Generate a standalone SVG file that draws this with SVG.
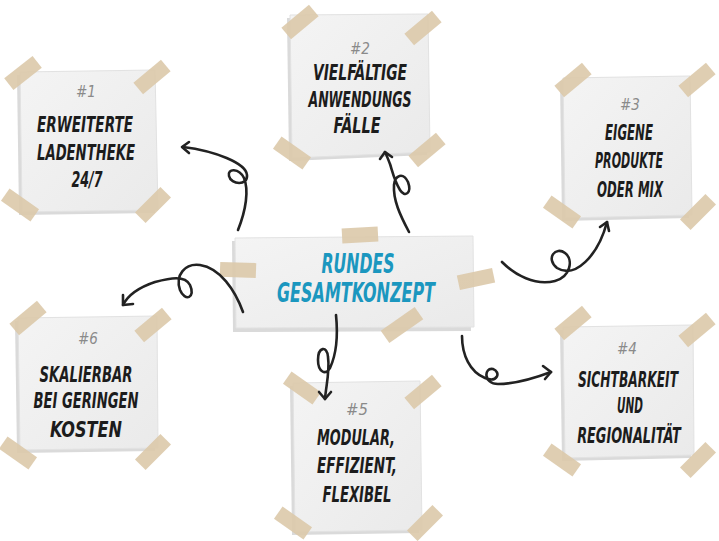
<svg xmlns="http://www.w3.org/2000/svg" width="719" height="541" viewBox="0 0 719 541">
<style>
.shadow{fill:#dadada}
.paper{fill:url(#pg);stroke:#e2e2e2;stroke-width:1}
.tape{fill:#dcc9aa;opacity:0.9}
.t{font-family:'DejaVu Sans Condensed','Liberation Sans Narrow','DejaVu Sans',sans-serif;font-weight:bold;font-style:italic;font-size:22px;fill:#1c1c1c;text-anchor:middle}
.c{font-size:26px;fill:#1b97bf}
.n{font-family:'DejaVu Sans','Liberation Sans',sans-serif;font-style:italic;font-size:15px;fill:#8a8a8a;text-anchor:middle}
.a{fill:none;stroke:#222;stroke-width:2.6;stroke-linecap:round;stroke-linejoin:round}
</style>
<defs>
<linearGradient id="pg" x1="0" y1="0" x2="1" y2="1">
<stop offset="0" stop-color="#f4f4f4"/>
<stop offset="0.5" stop-color="#efefef"/>
<stop offset="1" stop-color="#eaeaea"/>
</linearGradient>
<rect id="tp" class="tape" x="-18" y="-7.5" width="36" height="15"/>
</defs>
<rect width="719" height="541" fill="#ffffff"/>

<g id="center">
<polygon class="shadow" points="232,241 470,239 471,331 233,332"/>
<polygon class="paper" points="235,238 473,236 474,327 236,328"/>
<use href="#tp" transform="translate(360,235) rotate(-3)"/>
<use href="#tp" transform="translate(238,270) rotate(2)"/>
<use href="#tp" transform="translate(476,279) rotate(-12)"/>
<use href="#tp" transform="translate(402,325) rotate(-35) scale(1.15,1)"/>
<text class="t c" x="358" y="273" textLength="73" lengthAdjust="spacingAndGlyphs">RUNDES</text>
<text class="t c" x="356" y="302" textLength="158" lengthAdjust="spacingAndGlyphs">GESAMTKONZEPT</text>
</g>

<g id="note1">
<polygon class="shadow" points="17,75 152,73 155,213 19,215"/>
<polygon class="paper" points="20,72 155,70 158,210 22,212"/>
<use href="#tp" transform="translate(23,73) rotate(-38)"/>
<use href="#tp" transform="translate(152,77) rotate(-40)"/>
<use href="#tp" transform="translate(20,205) rotate(35)"/>
<use href="#tp" transform="translate(153,205) rotate(-45)"/>
<text class="n" x="86" y="97" textLength="20" lengthAdjust="spacingAndGlyphs">#1</text>
<text class="t" x="85" y="132" textLength="96" lengthAdjust="spacingAndGlyphs">ERWEITERTE</text>
<text class="t" x="86" y="160" textLength="98" lengthAdjust="spacingAndGlyphs">LADENTHEKE</text>
<text class="t" x="87" y="187" textLength="31" lengthAdjust="spacingAndGlyphs">24/7</text>
</g>

<g id="note2">
<polygon class="shadow" points="287,18 425,17 427,155 289,161"/>
<polygon class="paper" points="290,15 428,14 430,152 292,158"/>
<use href="#tp" transform="translate(300,22) rotate(-40)"/>
<use href="#tp" transform="translate(423,28) rotate(-40)"/>
<use href="#tp" transform="translate(292,153) rotate(35)"/>
<use href="#tp" transform="translate(427,150) rotate(-40)"/>
<text class="n" x="360" y="54" textLength="20" lengthAdjust="spacingAndGlyphs">#2</text>
<text class="t" x="360" y="80" textLength="94" lengthAdjust="spacingAndGlyphs">VIELFÄLTIGE</text>
<text class="t" x="360" y="107" textLength="103" lengthAdjust="spacingAndGlyphs">ANWENDUNGS</text>
<text class="t" x="357" y="133" textLength="47" lengthAdjust="spacingAndGlyphs">FÄLLE</text>
</g>

<g id="note3">
<polygon class="shadow" points="560,81 687,79 689,218 562,221"/>
<polygon class="paper" points="563,78 690,76 692,215 565,218"/>
<use href="#tp" transform="translate(573,80) rotate(-40)"/>
<use href="#tp" transform="translate(697,80) rotate(-40)"/>
<use href="#tp" transform="translate(562,212) rotate(35)"/>
<use href="#tp" transform="translate(698,212) rotate(-45)"/>
<text class="n" x="630" y="110" textLength="20" lengthAdjust="spacingAndGlyphs">#3</text>
<text class="t" x="629" y="140" textLength="48" lengthAdjust="spacingAndGlyphs">EIGENE</text>
<text class="t" x="629" y="168" textLength="68" lengthAdjust="spacingAndGlyphs">PRODUKTE</text>
<text class="t" x="630" y="197" textLength="66" lengthAdjust="spacingAndGlyphs">ODER MIX</text>
</g>

<g id="note4">
<polygon class="shadow" points="560,330 690,328 691,458 562,461"/>
<polygon class="paper" points="563,327 693,325 694,455 565,458"/>
<use href="#tp" transform="translate(573,323) rotate(-40)"/>
<use href="#tp" transform="translate(697,330) rotate(-40)"/>
<use href="#tp" transform="translate(562,460) rotate(35)"/>
<use href="#tp" transform="translate(698,460) rotate(-45)"/>
<text class="n" x="627" y="354" textLength="20" lengthAdjust="spacingAndGlyphs">#4</text>
<text class="t" transform="translate(628,387) scale(0.72,1)" x="0" y="0" textLength="139" lengthAdjust="spacingAndGlyphs">SICHTBARKEIT</text>
<text class="t" x="630" y="413" textLength="26" lengthAdjust="spacingAndGlyphs">UND</text>
<text class="t" transform="translate(629,443) scale(0.72,1)" x="0" y="0" textLength="144" lengthAdjust="spacingAndGlyphs">REGIONALITÄT</text>
</g>

<g id="note5">
<polygon class="shadow" points="290,386 417,384 419,533 292,535"/>
<polygon class="paper" points="293,383 420,381 422,530 295,532"/>
<use href="#tp" transform="translate(302,388) rotate(35)"/>
<use href="#tp" transform="translate(423,392) rotate(-40)"/>
<use href="#tp" transform="translate(293,523) rotate(35)"/>
<use href="#tp" transform="translate(425,523) rotate(-45)"/>
<text class="n" x="357" y="415" textLength="22" lengthAdjust="spacingAndGlyphs">#5</text>
<text class="t" x="356" y="445" textLength="78" lengthAdjust="spacingAndGlyphs">MODULAR,</text>
<text class="t" x="357" y="473" textLength="80" lengthAdjust="spacingAndGlyphs">EFFIZIENT,</text>
<text class="t" x="357" y="502" textLength="69" lengthAdjust="spacingAndGlyphs">FLEXIBEL</text>
</g>

<g id="note6">
<polygon class="shadow" points="15,321 154,319 155,451 17,453"/>
<polygon class="paper" points="18,318 157,316 158,448 20,450"/>
<use href="#tp" transform="translate(28,318) rotate(-40)"/>
<use href="#tp" transform="translate(153,325) rotate(-40)"/>
<use href="#tp" transform="translate(18,453) rotate(35)"/>
<use href="#tp" transform="translate(153,452) rotate(-45)"/>
<text class="n" x="88" y="344" textLength="20" lengthAdjust="spacingAndGlyphs">#6</text>
<text class="t" x="86" y="382" textLength="93" lengthAdjust="spacingAndGlyphs">SKALIERBAR</text>
<text class="t" x="86" y="408" textLength="105" lengthAdjust="spacingAndGlyphs">BEI GERINGEN</text>
<text class="t" x="86" y="437" textLength="72" lengthAdjust="spacingAndGlyphs">KOSTEN</text>
</g>

<g id="connectors">
<path class="a" d="M238,230 C246,210 249,190 244,178 C239,168 227,168 229,176 C231,185 248,186 247,175 C246,163 215,151 183,147"/>
<path class="a" d="M189,142 L182,147 L189,153"/>
<path class="a" d="M409,232 C400,215 393,200 394,185 C395,175 403,172 408,182 C412,193 405,198 400,190 C394,180 392,170 390,164 C388,159 387,156 385,152"/>
<path class="a" d="M380,159 L385,152 L392,157"/>
<path class="a" d="M502,262 C515,275 535,286 555,281 C570,277 574,260 565,253 C556,246 545,258 557,268 C575,279 598,256 607,222"/>
<path class="a" d="M600,227 L607,222 L609,231"/>
<path class="a" d="M462,336 C462,355 470,372 485,378 C498,383 501,372 493,369 C484,367 483,384 498,384 C515,384 535,378 551,372"/>
<path class="a" d="M543,366 L551,372 L545,379"/>
<path class="a" d="M336,315 C338,335 336,355 330,368 C326,376 318,372 318,360 C318,347 327,345 328,357 C330,371 326,386 325,399"/>
<path class="a" d="M319,392 L325,399 L331,392"/>
<path class="a" d="M243,312 C235,290 220,268 200,265 C185,263 175,275 180,290 C185,302 196,298 190,285 C185,275 170,278 155,282 C140,287 128,295 123,305"/>
<path class="a" d="M123,295 L123,305 L133,304"/>
</g>
</svg>
